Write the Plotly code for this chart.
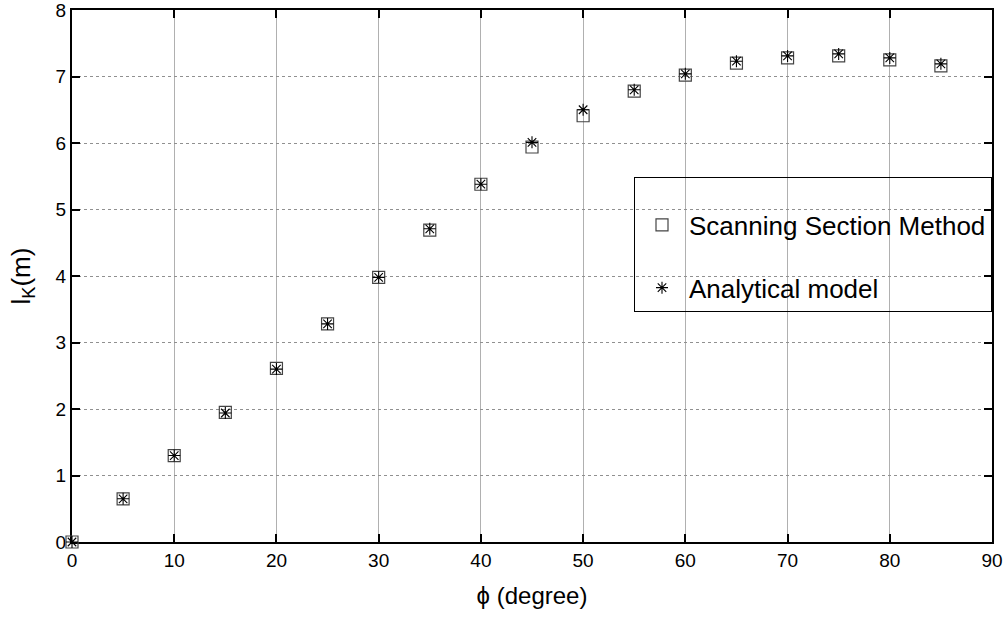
import plotly.graph_objects as go

phi_deg = [0, 5, 10, 15, 20, 25, 30, 35, 40, 45, 50, 55, 60, 65, 70, 75, 80, 85]
scanning_section = [0, 0.65, 1.30, 1.95, 2.61, 3.28, 3.98, 4.69, 5.38, 5.94, 6.41, 6.78, 7.02, 7.20, 7.28, 7.31, 7.25, 7.16]
analytical_model = [0, 0.65, 1.30, 1.94, 2.60, 3.28, 3.98, 4.71, 5.38, 6.01, 6.50, 6.80, 7.04, 7.23, 7.31, 7.34, 7.28, 7.19]
x_ticks = [0, 10, 20, 30, 40, 50, 60, 70, 80, 90]
y_ticks = [0, 1, 2, 3, 4, 5, 6, 7, 8]

FONT = "Liberation Sans, Arial, sans-serif"

fig = go.Figure()
fig.add_trace(go.Scatter(
    x=phi_deg, y=scanning_section, mode="markers", name="Scanning Section Method",
    legendgroup="a", cliponaxis=False,
    marker=dict(symbol="square-open", size=12, color="#444444", line=dict(width=1.2, color="#444444")),
))
fig.add_trace(go.Scatter(
    x=phi_deg, y=analytical_model, mode="markers", name="Analytical model",
    legendgroup="b", cliponaxis=False,
    marker=dict(symbol="asterisk-open", size=10, color="#000000", line=dict(width=1.1, color="#000000")),
))

axis_common = dict(
    showline=True, linecolor="black", linewidth=2, mirror="allticks",
    ticks="inside", ticklen=8, tickcolor="black", tickwidth=1.5,
    tickfont=dict(family=FONT, size=19, color="black"),
    showgrid=True, zeroline=False, automargin=False,
    ticklabeloverflow="allow", layer="below traces",
)

fig.update_layout(
    width=1004, height=619,
    margin=dict(l=72, r=12, t=10, b=77),
    paper_bgcolor="white", plot_bgcolor="white",
    font=dict(family=FONT, color="black"),
    xaxis=dict(range=[0, 90], tickvals=x_ticks, gridcolor="#b0b0b0", gridwidth=1,
               title=dict(text="ϕ (degree)", font=dict(family=FONT, size=24), standoff=17),
               **axis_common),
    yaxis=dict(range=[0, 8], tickvals=y_ticks, gridcolor="#909090", gridwidth=1, griddash="dot",
               title=dict(text="l<sub>K</sub>(m)", font=dict(family=FONT, size=26), standoff=18),
               **axis_common),
    legend=dict(
        x=1.0, xanchor="right", y=0.686, yanchor="top",
        bgcolor="rgba(255,255,255,0)", bordercolor="black", borderwidth=1,
        font=dict(family=FONT, size=26, color="black"),
        title=dict(text=" ", font=dict(size=18)),
        tracegroupgap=26, itemwidth=44,
    ),
)

fig.write_html(
    "out.html",
    config={"displayModeBar": False},
    post_script="document.body.style.margin='0';document.body.style.overflow='hidden';",
)
